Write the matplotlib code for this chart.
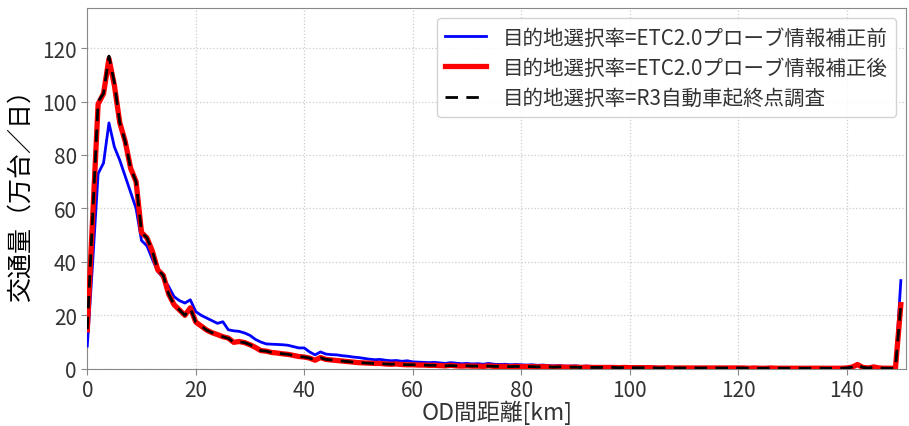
import numpy as np
import matplotlib
matplotlib.use("Agg")
import matplotlib.pyplot as plt

plt.rcParams['font.family'] = ['Noto Sans CJK JP', 'DejaVu Sans']

# OD距離 [km]
distance_km = list(range(0, 151))

# 目的地選択率=ETC2.0プローブ情報補正前
before = [
    8.5, 40, 73, 77, 92, 83, 78, 72, 66, 60,
    48, 46, 41, 36.4, 34, 30.8, 27, 25.5, 24.6, 25.8,
    21.4, 20, 19, 18, 17, 17.6, 14.6, 14.2, 14, 13.4,
    12.5, 11, 10, 9.3, 9.2, 9.1, 9, 8.8, 8.3, 7.8,
    7.8, 6.3, 5.2, 6.3, 5.5, 5.3, 5.2, 4.9, 4.7, 4.4,
    4.2, 3.9, 3.6, 3.4, 3.5, 3.2, 3.0, 3.1, 2.8, 3.0,
    2.6, 2.5, 2.4, 2.3, 2.4, 2.2, 2.0, 2.3, 2.1, 1.9,
    2.0, 1.8, 1.9, 1.7, 2.0, 1.7, 1.6, 1.7, 1.5, 1.6,
    1.5, 1.4, 1.5, 1.3, 1.4, 1.2, 1.1, 1.2, 1.0, 1.0,
    1.1, 0.9, 1.0, 0.9, 0.8, 0.9, 0.8, 0.8, 0.7, 0.8,
    0.7, 0.7, 0.6, 0.7, 0.6, 0.6, 0.5, 0.6, 0.5, 0.5,
    0.5, 0.5, 0.4, 0.5, 0.4, 0.4, 0.4, 0.5, 0.4, 0.4,
    0.4, 0.4, 0.3, 0.4, 0.3, 0.3, 0.4, 0.3, 0.3, 0.3,
    0.3, 0.3, 0.3, 0.3, 0.2, 0.3, 0.2, 0.3, 0.2, 0.2,
    0.3, 0.5, 1.2, 0.4, 0.3, 0.6, 0.3, 0.2, 0.2, 0.2,
    33,
]

# 目的地選択率=ETC2.0プローブ情報補正後
after = [
    14.6, 57, 99, 103, 116, 106, 92, 85, 75, 70,
    51, 49, 44, 37, 35, 28, 24, 22, 20, 22.8,
    17.5, 16, 14.5, 13.5, 12.8, 12, 11.5, 9.9, 10.2, 9.8,
    9, 8, 6.8, 6.6, 6.1, 5.9, 5.6, 5.4, 5, 4.6,
    4.4, 4.0, 3.2, 4.2, 3.5, 3.3, 3.1, 2.9, 2.7, 2.5,
    2.3, 2.2, 2.1, 2.0, 2.0, 1.8, 1.7, 1.8, 1.6, 1.5,
    1.5, 1.4, 1.4, 1.3, 1.3, 1.2, 1.1, 1.3, 1.1, 1.0,
    1.1, 1.0, 1.0, 0.9, 1.1, 0.9, 0.9, 0.9, 0.8, 0.9,
    0.8, 0.8, 0.8, 0.7, 0.8, 0.7, 0.6, 0.7, 0.6, 0.6,
    0.6, 0.5, 0.6, 0.5, 0.5, 0.5, 0.5, 0.5, 0.4, 0.5,
    0.4, 0.4, 0.4, 0.4, 0.4, 0.3, 0.3, 0.4, 0.3, 0.3,
    0.3, 0.3, 0.3, 0.3, 0.3, 0.3, 0.3, 0.3, 0.3, 0.3,
    0.3, 0.3, 0.2, 0.3, 0.2, 0.2, 0.3, 0.2, 0.2, 0.2,
    0.2, 0.2, 0.2, 0.2, 0.2, 0.2, 0.2, 0.2, 0.2, 0.2,
    0.3, 0.6, 1.6, 0.5, 0.3, 0.7, 0.3, 0.2, 0.2, 0.2,
    24,
]

# 目的地選択率=R3自動車起終点調査
survey = [
    14.8, 57, 100, 103, 117, 107, 92, 85, 75, 70,
    51, 49, 44, 37, 35, 28, 24, 22, 20, 22.6,
    17.5, 16, 14.5, 13.5, 12.8, 12, 11.4, 9.9, 10.1, 9.8,
    9, 8, 6.8, 6.6, 6.1, 5.9, 5.6, 5.4, 5, 4.6,
    4.4, 4.0, 3.2, 4.1, 3.5, 3.3, 3.1, 2.9, 2.7, 2.5,
    2.3, 2.2, 2.1, 2.0, 2.0, 1.8, 1.7, 1.8, 1.6, 1.5,
    1.5, 1.4, 1.4, 1.3, 1.3, 1.2, 1.1, 1.2, 1.1, 1.0,
    1.1, 1.0, 1.0, 0.9, 1.0, 0.9, 0.9, 0.9, 0.8, 0.9,
    0.8, 0.8, 0.8, 0.7, 0.8, 0.7, 0.6, 0.7, 0.6, 0.6,
    0.6, 0.5, 0.6, 0.5, 0.5, 0.5, 0.5, 0.5, 0.4, 0.5,
    0.4, 0.4, 0.4, 0.4, 0.4, 0.3, 0.3, 0.4, 0.3, 0.3,
    0.3, 0.3, 0.3, 0.3, 0.3, 0.3, 0.3, 0.3, 0.3, 0.3,
    0.3, 0.3, 0.2, 0.3, 0.2, 0.2, 0.3, 0.2, 0.2, 0.2,
    0.2, 0.2, 0.2, 0.2, 0.2, 0.2, 0.2, 0.2, 0.2, 0.2,
    0.3, 0.6, 1.5, 0.5, 0.3, 0.6, 0.3, 0.2, 0.2, 0.2,
    24,
]

labels = [
    '目的地選択率=ETC2.0プローブ情報補正前',
    '目的地選択率=ETC2.0プローブ情報補正後',
    '目的地選択率=R3自動車起終点調査',
]

text_color = '#333333'

fig = plt.figure(figsize=(9.09, 4.27), dpi=100)
ax = fig.add_axes([0.096, 0.134, 0.901, 0.845])

ax.plot(distance_km, before, color='blue', lw=2.0, label=labels[0], zorder=3)
ax.plot(distance_km, after, color='red', lw=3.8, label=labels[1], zorder=4)
ax.plot(distance_km, survey, color='black', lw=2.0, ls=(0, (4.5, 3)), label=labels[2], zorder=5)

ax.set_xlim(0, 151)
ax.set_ylim(0, 135)
ax.set_xticks(np.arange(0, 141, 20))
ax.set_yticks(np.arange(0, 121, 20))
ax.grid(True, color='#cccccc', ls=':', lw=0.9)

for s in ax.spines.values():
    s.set_color('#888888')
ax.tick_params(labelsize=15, colors=text_color, length=4, color='#888888')

ax.set_xlabel('OD間距離[km]', fontsize=16.5, color=text_color, labelpad=-1)
ax.set_ylabel('交通量（万台／日）', fontsize=18, color='black', labelpad=6)

leg = ax.legend(loc='upper right', fontsize=14.8, framealpha=0.85, edgecolor='#cccccc',
                handlelength=2.0, labelspacing=0.4)
for t in leg.get_texts():
    t.set_color(text_color)

fig.savefig('out.png', dpi=100)
